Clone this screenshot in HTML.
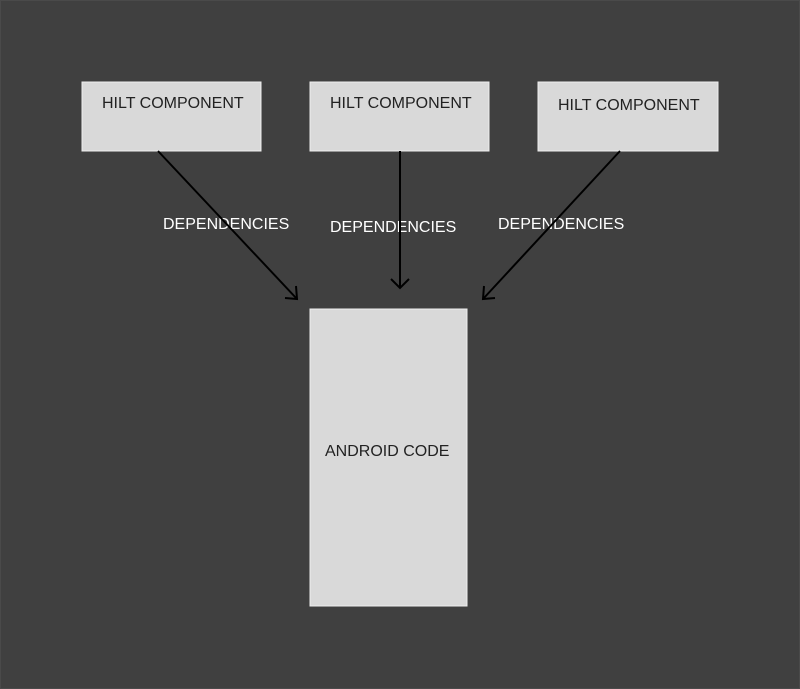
<!DOCTYPE html>
<html><head><style>
body{margin:0;background:#404040;}
svg{display:block}
text{font-family:"Liberation Sans",sans-serif;font-size:16px}
</style></head><body>
<svg width="800" height="689" xmlns="http://www.w3.org/2000/svg">
<rect x="0.5" y="0.5" width="799" height="688" fill="#404040" stroke="#4a4a4a"/>
<g fill="#d9d9d9" stroke="#eeeeee" stroke-width="1">
<rect x="82" y="82" width="179" height="69"/>
<rect x="310" y="82" width="179" height="69"/>
<rect x="538" y="82" width="180" height="69"/>
<rect x="310" y="309" width="157" height="297"/>
</g>
<g fill="#222">
<text x="102" y="108">HILT COMPONENT</text>
<text x="330" y="108">HILT COMPONENT</text>
<text x="558" y="110">HILT COMPONENT</text>
<text x="325" y="456">ANDROID CODE</text>
</g>
<g fill="#fff">
<text x="163" y="229">DEPENDENCIES</text>
<text x="330" y="232">DEPENDENCIES</text>
<text x="498" y="229">DEPENDENCIES</text>
</g>
<g stroke="#000" stroke-width="2" fill="none">
<line x1="158" y1="151" x2="297" y2="299"/>
<polyline points="285,298 297,299 296,286"/>
<line x1="400" y1="151" x2="400" y2="288"/>
<polyline points="391,279 400,288 409,279"/>
<line x1="620" y1="151" x2="483" y2="299"/>
<polyline points="484,286 483,299 495,298"/>
</g>
</svg>
</body></html>
